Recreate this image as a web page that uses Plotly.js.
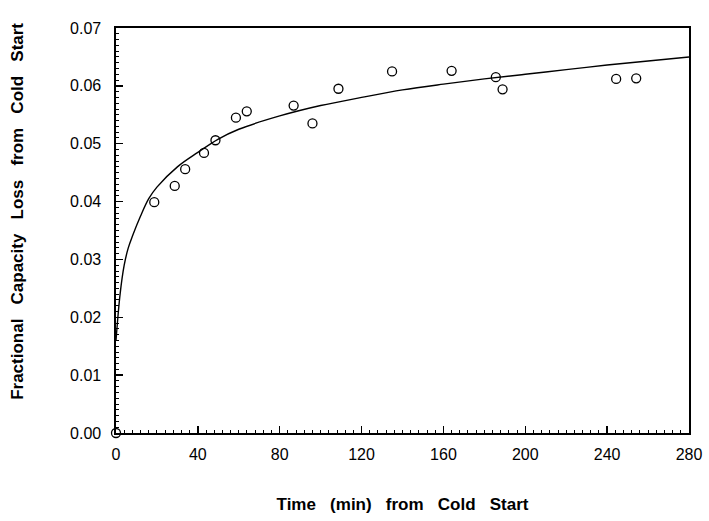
<!DOCTYPE html>
<html>
<head>
<meta charset="utf-8">
<script src="https://cdn.plot.ly/plotly-3.0.1.min.js"></script>
<style>html,body{margin:0;padding:0;background:#fff;}#chart{width:709px;height:521px;}</style>
</head>
<body>
<div id="chart"></div>
<script>
// Measured data points (time in min, fractional capacity loss)
var obsTime = [0, 18.7, 28.7, 33.8, 43.0, 48.6, 58.6, 63.9, 86.8, 96.0, 108.7, 134.9, 164.0, 185.6, 188.9, 244.4, 254.2];
var obsLoss = [0.0, 0.0399, 0.0427, 0.0456, 0.0484, 0.0506, 0.0545, 0.0556, 0.0566, 0.0535, 0.0595, 0.0625, 0.0626, 0.0615, 0.0594, 0.0612, 0.0613];

// Fitted curve
var fitTime = [0, 2, 4, 6, 8, 12, 16, 20, 30, 40, 50, 60, 80, 100, 120, 140, 160, 180, 200, 220, 240, 260, 280];
var fitLoss = [0.016, 0.024, 0.029, 0.032, 0.034, 0.0375, 0.0405, 0.0425, 0.046, 0.0485, 0.0508, 0.0525, 0.0548, 0.0566, 0.058, 0.0593, 0.0603, 0.0612, 0.062, 0.0628, 0.0636, 0.0643, 0.065];

var xTitle = 'Time   (min)   from   Cold   Start';
var yTitle = 'Fractional   Capacity   Loss   from   Cold   Start';

var tickFont = {family: 'Liberation Sans, Arial, sans-serif', size: 16, color: '#000'};
var titleFont = {family: 'Liberation Sans, Arial, sans-serif', size: 17, color: '#000', weight: 'bold'};

var traces = [
  {x: fitTime, y: fitLoss, mode: 'lines', line: {color: '#000', width: 1.4, shape: 'spline'}, hoverinfo: 'skip'},
  {x: obsTime, y: obsLoss, mode: 'markers', cliponaxis: false, marker: {symbol: 'circle-open', size: 9, color: '#000', line: {width: 1.3, color: '#000'}}}
];

var layout = {
  width: 709, height: 521,
  margin: {l: 116, r: 20, t: 28, b: 88},
  paper_bgcolor: '#fff', plot_bgcolor: '#fff',
  showlegend: false,
  xaxis: {
    range: [0, 280], tickmode: 'linear', tick0: 0, dtick: 40,
    showgrid: false, zeroline: false, showline: true, mirror: true, linecolor: '#000', linewidth: 1.6,
    ticks: 'inside', ticklen: 7, tickwidth: 1.3, tickcolor: '#000',
    minor: {ticks: 'inside', tick0: 0, dtick: 4, ticklen: 3, tickwidth: 1, tickcolor: '#000', showgrid: false},
    tickfont: tickFont, ticklabelstandoff: 6,
    title: {text: xTitle, font: titleFont, standoff: 36}
  },
  yaxis: {
    range: [0, 0.07], tickmode: 'linear', tick0: 0, dtick: 0.01, tickformat: '.2f',
    showgrid: false, zeroline: false, showline: true, mirror: true, linecolor: '#000', linewidth: 1.6,
    ticks: 'inside', ticklen: 7, tickwidth: 1.3, tickcolor: '#000',
    minor: {ticks: 'inside', tick0: 0, dtick: 0.001, ticklen: 3, tickwidth: 1, tickcolor: '#000', showgrid: false},
    tickfont: tickFont, ticklabelstandoff: 10
  },
  annotations: [{
    text: yTitle, textangle: -90, showarrow: false,
    xref: 'paper', yref: 'paper', x: 0, y: 0.546, xanchor: 'center', yanchor: 'middle', xshift: -98,
    font: titleFont
  }]
};

Plotly.newPlot('chart', traces, layout, {staticPlot: true, displayModeBar: false});
</script>
</body>
</html>
